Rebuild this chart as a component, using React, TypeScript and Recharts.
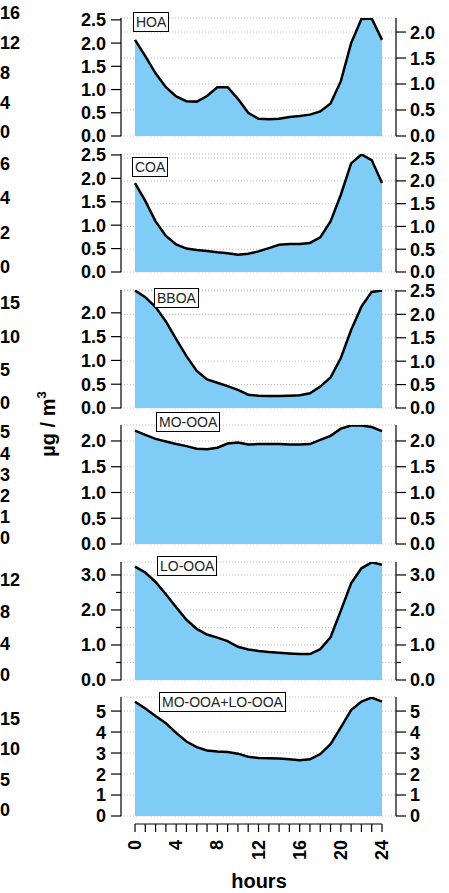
import React from 'react';
import { ComposedChart, LineChart, Area, XAxis, YAxis, CartesianGrid } from 'recharts';

// hourly diurnal profiles (µg/m³)
const hours = [0, 1, 2, 3, 4, 5, 6, 7, 8, 9, 10, 11, 12, 13, 14, 15, 16, 17, 18, 19, 20, 21, 22, 23, 24];
const hoa = [2.07, 1.72, 1.35, 1.05, 0.85, 0.75, 0.74, 0.86, 1.05, 1.05, 0.8, 0.5, 0.37, 0.36, 0.37, 0.41, 0.43, 0.46, 0.53, 0.7, 1.18, 2.0, 2.52, 2.53, 2.07];
const coa = [1.9, 1.52, 1.08, 0.77, 0.59, 0.5, 0.47, 0.45, 0.42, 0.4, 0.37, 0.39, 0.44, 0.51, 0.58, 0.6, 0.6, 0.62, 0.74, 1.08, 1.65, 2.32, 2.51, 2.39, 1.9];
const bboa = [2.47, 2.33, 2.12, 1.82, 1.45, 1.09, 0.78, 0.6, 0.53, 0.46, 0.38, 0.28, 0.26, 0.25, 0.25, 0.26, 0.27, 0.31, 0.45, 0.64, 1.05, 1.64, 2.13, 2.44, 2.47];
const moOoa = [2.2, 2.12, 2.04, 1.99, 1.94, 1.9, 1.85, 1.84, 1.87, 1.95, 1.97, 1.93, 1.94, 1.94, 1.94, 1.93, 1.93, 1.94, 2.02, 2.1, 2.24, 2.3, 2.3, 2.27, 2.19];
const loOoa = [3.24, 3.07, 2.8, 2.45, 2.08, 1.72, 1.46, 1.3, 1.21, 1.11, 0.95, 0.87, 0.83, 0.8, 0.78, 0.76, 0.74, 0.74, 0.88, 1.22, 1.98, 2.76, 3.19, 3.36, 3.29];
const moLoOoa = [5.44, 5.12, 4.76, 4.42, 3.96, 3.55, 3.28, 3.12, 3.07, 3.05, 2.97, 2.82, 2.76, 2.75, 2.74, 2.7, 2.66, 2.7, 2.95, 3.42, 4.22, 5.05, 5.45, 5.64, 5.45];

const names = ['HOA', 'COA', 'BBOA', 'MO-OOA', 'LO-OOA', 'MO-OOA+LO-OOA'];
const series = [hoa, coa, bboa, moOoa, loOoa, moLoOoa];

const leftTicks = [
  [0, 0.5, 1, 1.5, 2, 2.5],
  [0, 0.5, 1, 1.5, 2, 2.5],
  [0, 0.5, 1, 1.5, 2],
  [0, 0.5, 1, 1.5, 2],
  [0, 0.5, 1, 1.5, 2, 2.5, 3],
  [0, 1, 2, 3, 4, 5],
];
const rightTicks = [
  [0, 0.5, 1, 1.5, 2],
  [0, 0.5, 1, 1.5, 2, 2.5],
  [0, 0.5, 1, 1.5, 2, 2.5],
  [0, 0.5, 1, 1.5, 2],
  [0, 0.5, 1, 1.5, 2, 2.5, 3],
  [0, 1, 2, 3, 4, 5],
];
// cropped labels of the neighbouring figure on the far left
const outerTicks = [
  [0, 4, 8, 12, 16],
  [0, 2, 4, 6],
  [0, 5, 10, 15],
  [0, 1, 2, 3, 4, 5],
  [0, 4, 8, 12],
  [0, 5, 10, 15],
];
const hourLabels = [0, 4, 8, 12, 16, 20, 24];

// layout of each panel (pixels) and axis ranges
const layout = [
  { top: 18, bottom: 136, lMax: 2.54, rMax: 2.27, box: [133, 12], outer: [132, 7.44], digits: 1, minor: false },
  { top: 154, bottom: 272, lMax: 2.52, rMax: 2.59, box: [132, 157], outer: [267, 17.33], digits: 1, minor: false },
  { top: 290, bottom: 408, lMax: 2.48, rMax: 2.52, box: [154, 288], outer: [403, 6.67], digits: 1, minor: false },
  { top: 425, bottom: 544, lMax: 2.31, rMax: 2.31, box: [156, 412], outer: [538, 21.2], digits: 1, minor: false },
  { top: 562, bottom: 680, lMax: 3.37, rMax: 3.37, box: [157, 556], outer: [675, 7.92], digits: 1, minor: true },
  { top: 697, bottom: 816, lMax: 5.67, rMax: 5.67, box: [159, 692], outer: [810, 6.13], digits: 0, minor: false },
];

const FONT = "'Liberation Sans', Arial, sans-serif";
const FILL = '#7fcdf7';
const W = 449;
const TICK = 10;
const GAP_L = 5;
const GAP_R = 4;
const PAD = 14;

const YTick = (props: any) => {
  const { x, y, payload, side, digits, minor } = props;
  const v = payload.value as number;
  const major = !minor || Math.abs(v - Math.round(v)) < 1e-6;
  const axisX = side === 'left' ? x + TICK + GAP_L : x - TICK - GAP_R;
  const len = major ? TICK : 5;
  const x2 = side === 'left' ? axisX - len : axisX + len;
  return (
    <g>
      <line x1={axisX} y1={y} x2={x2} y2={y} stroke="#000" strokeWidth={1.2} />
      {major && (
        <text
          x={x}
          y={y}
          dy="0.36em"
          textAnchor={side === 'left' ? 'end' : 'start'}
          fontFamily={FONT}
          fontWeight="bold"
          fontSize={18}
          fill="#000"
        >
          {v.toFixed(digits)}
        </text>
      )}
    </g>
  );
};

const HourTick = (props: any) => {
  const { x, y, payload } = props;
  if (!hourLabels.includes(payload.value)) return <g />;
  return (
    <text
      x={x}
      y={y}
      transform={`rotate(-90 ${x} ${y})`}
      textAnchor="end"
      dominantBaseline="central"
      fontFamily={FONT}
      fontWeight="bold"
      fontSize={18}
      fill="#000"
    >
      {payload.value}
    </text>
  );
};

const Panel = ({ i }: { i: number }) => {
  const p = layout[i];
  const rows = hours.map((h, k) => ({ h, v: series[i][k] }));
  return (
    <div style={{ position: 'absolute', left: 0, top: p.top - PAD }}>
      <ComposedChart
        width={W}
        height={p.bottom - p.top + 2 * PAD}
        data={rows}
        margin={{ top: PAD, bottom: PAD, left: 0, right: 0 }}
      >
        <XAxis dataKey="h" type="number" domain={[-1.36, 25.36]} hide allowDataOverflow />
        <YAxis
          yAxisId="l"
          orientation="left"
          width={121}
          domain={[0, p.lMax]}
          ticks={leftTicks[i]}
          interval={0}
          allowDataOverflow
          tickSize={TICK}
          tickMargin={GAP_L}
          tickLine={false}
          axisLine={{ stroke: '#000', strokeWidth: 1.2 }}
          tick={<YTick side="left" digits={p.digits} minor={p.minor} />}
        />
        <YAxis
          yAxisId="r"
          orientation="right"
          width={53}
          domain={[0, p.rMax]}
          ticks={rightTicks[i]}
          interval={0}
          allowDataOverflow
          tickSize={TICK}
          tickMargin={GAP_R}
          tickLine={false}
          axisLine={{ stroke: '#000', strokeWidth: 1.2 }}
          tick={<YTick side="right" digits={p.digits} minor={p.minor} />}
        />
        <CartesianGrid yAxisId="r" vertical={false} stroke="#bbb" strokeDasharray="1 2" />
        <Area
          yAxisId="l"
          dataKey="v"
          type="linear"
          fill={FILL}
          fillOpacity={1}
          stroke="#000"
          strokeWidth={2.5}
          isAnimationActive={false}
        />
      </ComposedChart>
    </div>
  );
};

export default function App() {
  const axisRows = hours.map((h) => ({ h }));
  return (
    <div style={{ position: 'absolute', left: 0, top: 0, width: W, height: 893, background: '#fff' }}>
      {layout.map((_, i) => (
        <Panel key={i} i={i} />
      ))}

      <div style={{ position: 'absolute', left: 0, top: 823 }}>
        <LineChart width={W} height={71} data={axisRows} margin={{ top: 0, left: 135, right: 67, bottom: 0 }}>
          <XAxis
            dataKey="h"
            type="number"
            domain={[0, 24]}
            ticks={hours}
            interval={0}
            height={70}
            tickSize={8}
            tickMargin={8}
            axisLine={{ stroke: '#000', strokeWidth: 1.2 }}
            tickLine={{ stroke: '#000', strokeWidth: 1.2 }}
            tick={<HourTick />}
          />
          <YAxis hide />
        </LineChart>
      </div>

      {layout.map((p, i) => (
        <div
          key={names[i]}
          style={{
            position: 'absolute',
            left: p.box[0],
            top: p.box[1],
            border: '1px solid #000',
            background: '#fff',
            padding: '0 2px',
            fontFamily: FONT,
            fontSize: 14,
            lineHeight: '18px',
            color: '#222',
          }}
        >
          {names[i]}
        </div>
      ))}

      <svg width={W} height={893} style={{ position: 'absolute', left: 0, top: 0, pointerEvents: 'none' }}>
        {layout.map((p, i) =>
          outerTicks[i].map((t) => (
            <text
              key={`${i}-${t}`}
              x={0}
              y={p.outer[0] - t * p.outer[1]}
              dy="0.36em"
              fontFamily={FONT}
              fontWeight="bold"
              fontSize={18}
              fill="#000"
            >
              {t}
            </text>
          ))
        )}
        <text
          transform="translate(55 424) rotate(-90)"
          textAnchor="middle"
          fontFamily={FONT}
          fontWeight="bold"
          fontSize={20}
          fill="#000"
        >
          µg / m
          <tspan dy={-9} fontSize={13}>
            3
          </tspan>
        </text>
        <text x={259} y={888} textAnchor="middle" fontFamily={FONT} fontWeight="bold" fontSize={20} fill="#000">
          hours
        </text>
      </svg>
    </div>
  );
}
